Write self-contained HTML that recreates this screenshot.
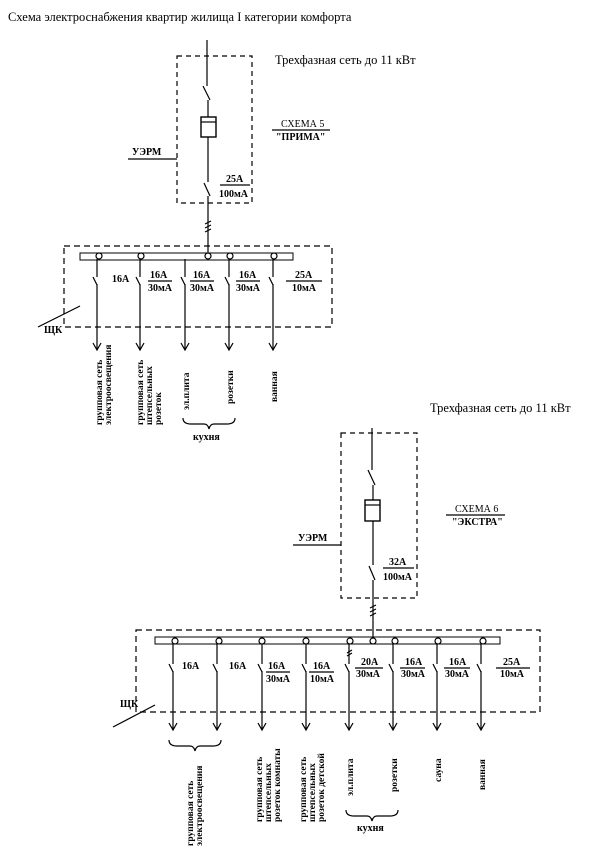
<!DOCTYPE html>
<html><head><meta charset="utf-8"><style>
html,body{margin:0;padding:0;background:#fff}
svg{display:block}
text{font-family:"Liberation Serif","DejaVu Serif",serif;fill:#000}
.s{font-size:10px;font-weight:bold}
.v{font-size:9.5px;font-weight:bold}
</style></head><body>
<svg width="604" height="861" viewBox="0 0 604 861" xmlns="http://www.w3.org/2000/svg" stroke="#000" fill="none" stroke-width="1.2">
<text x="8" y="21" style="font-size:12.5px" stroke="none">Схема электроснабжения квартир жилища I категории комфорта</text>
<text x="275" y="64" style="font-size:12.5px" stroke="none">Трехфазная сеть до 11 кВт</text>
<!-- Diagram 1 top -->
<rect x="177" y="56" width="75" height="147" stroke-dasharray="5,4"/>
<line x1="207" y1="40" x2="207" y2="86"/>
<line x1="203" y1="86" x2="210" y2="100"/>
<line x1="208" y1="100" x2="208" y2="117"/>
<rect x="201" y="117" width="15" height="20" stroke-width="1.4"/>
<line x1="201" y1="122" x2="216" y2="122"/>
<line x1="208" y1="137" x2="208" y2="182"/>
<line x1="204" y1="183" x2="210" y2="196"/>
<line x1="208" y1="196" x2="208" y2="253"/>
<path d="M205 224l6-3M205 228l6-3M205 232l6-3"/>
<line x1="128" y1="159" x2="177" y2="159"/>
<text x="132" y="155" class="s" stroke="none">УЭРМ</text>
<line x1="220" y1="185" x2="250" y2="185"/>
<text x="226" y="182" class="s" stroke="none">25А</text>
<text x="219" y="197" class="s" stroke="none">100мА</text>
<line x1="272" y1="130" x2="330" y2="130"/>
<text x="281" y="127" class="s" stroke="none" style="font-weight:normal">СХЕМА 5</text>
<text x="276" y="140" class="s" stroke="none">"ПРИМА"</text>
<!-- Diagram 1 ЩК -->
<rect x="64" y="246" width="268" height="81" stroke-dasharray="6,4"/>
<rect x="80" y="253" width="213" height="7" stroke-width="1"/>
<g fill="#fff"><circle cx="99" cy="256" r="3"/><circle cx="141" cy="256" r="3"/><circle cx="208" cy="256" r="3"/><circle cx="230" cy="256" r="3"/><circle cx="274" cy="256" r="3"/></g>
<g>
<path d="M97 259v18M93 277l4 8M97 284v65M93 343l4 7 4-7"/>
<path d="M140 259v18M136 277l4 8M140 284v65M136 343l4 7 4-7"/>
<path d="M185 259v18M181 277l4 8M185 284v65M181 343l4 7 4-7"/>
<path d="M229 259v18M225 277l4 8M229 284v65M225 343l4 7 4-7"/>
<path d="M273 259v18M269 277l4 8M273 284v65M269 343l4 7 4-7"/>
</g>
<path d="M38 327l42-21"/>
<text x="44" y="333" class="s" stroke="none">ЩК</text>
<text x="112" y="282" class="s" stroke="none">16А</text>
<line x1="148" y1="281" x2="172" y2="281"/><text x="150" y="278" class="s" stroke="none">16А</text><text x="148" y="291" class="s" stroke="none">30мА</text>
<line x1="190" y1="281" x2="214" y2="281"/><text x="193" y="278" class="s" stroke="none">16А</text><text x="190" y="291" class="s" stroke="none">30мА</text>
<line x1="236" y1="281" x2="260" y2="281"/><text x="239" y="278" class="s" stroke="none">16А</text><text x="236" y="291" class="s" stroke="none">30мА</text>
<line x1="286" y1="281" x2="322" y2="281"/><text x="295" y="278" class="s" stroke="none">25А</text><text x="292" y="291" class="s" stroke="none">10мА</text>
<g stroke="none" class="v">
<text transform="translate(102,425) rotate(-90)">групповая сеть</text>
<text transform="translate(111,425) rotate(-90)">электроосвещения</text>
<text transform="translate(143,425) rotate(-90)">групповая сеть</text>
<text transform="translate(152,425) rotate(-90)">штепсельных</text>
<text transform="translate(161,425) rotate(-90)">розеток</text>
<text transform="translate(189,410) rotate(-90)">эл.плита</text>
<text transform="translate(233,404) rotate(-90)">розетки</text>
<text transform="translate(277,402) rotate(-90)">ванная</text>
</g>
<path d="M183 418q0 6 8 6h13q4 0 5 5 1-5 5-5h13q8 0 8-6"/>
<text x="193" y="440" class="s" stroke="none">кухня</text>
<!-- Diagram 2 -->
<text x="430" y="412" style="font-size:12.5px" stroke="none">Трехфазная сеть до 11 кВт</text>
<rect x="341" y="433" width="76" height="165" stroke-dasharray="5,4"/>
<line x1="372" y1="428" x2="372" y2="470"/>
<line x1="368" y1="470" x2="375" y2="485"/>
<line x1="373" y1="485" x2="373" y2="500"/>
<rect x="365" y="500" width="15" height="21" stroke-width="1.4"/>
<line x1="365" y1="505" x2="380" y2="505"/>
<line x1="373" y1="521" x2="373" y2="565"/>
<line x1="369" y1="566" x2="375" y2="580"/>
<line x1="373" y1="580" x2="373" y2="638"/>
<path d="M370 608l6-3M370 612l6-3M370 616l6-3"/>
<line x1="293" y1="545" x2="341" y2="545"/>
<text x="298" y="541" class="s" stroke="none">УЭРМ</text>
<line x1="383" y1="568" x2="414" y2="568"/>
<text x="389" y="565" class="s" stroke="none">32А</text>
<text x="383" y="580" class="s" stroke="none">100мА</text>
<line x1="446" y1="515" x2="505" y2="515"/>
<text x="455" y="512" class="s" stroke="none" style="font-weight:normal">СХЕМА 6</text>
<text x="452" y="525" class="s" stroke="none">"ЭКСТРА"</text>
<rect x="136" y="630" width="404" height="82" stroke-dasharray="6,4"/>
<rect x="155" y="637" width="345" height="7" stroke-width="1"/>
<g fill="#fff"><circle cx="175" cy="641" r="3"/><circle cx="219" cy="641" r="3"/><circle cx="262" cy="641" r="3"/><circle cx="306" cy="641" r="3"/><circle cx="350" cy="641" r="3"/><circle cx="373" cy="641" r="3"/><circle cx="395" cy="641" r="3"/><circle cx="438" cy="641" r="3"/><circle cx="483" cy="641" r="3"/></g>
<g>
<path d="M173 644v20M169 664l4 8M173 671v58M169 723l4 7 4-7"/>
<path d="M217 644v20M213 664l4 8M217 671v58M213 723l4 7 4-7"/>
<path d="M262 644v20M258 664l4 8M262 671v58M258 723l4 7 4-7"/>
<path d="M306 644v20M302 664l4 8M306 671v58M302 723l4 7 4-7"/>
<path d="M349 644v20M345 664l4 8M349 671v58M345 723l4 7 4-7"/>
<path d="M393 644v20M389 664l4 8M393 671v58M389 723l4 7 4-7"/>
<path d="M437 644v20M433 664l4 8M437 671v58M433 723l4 7 4-7"/>
<path d="M481 644v20M477 664l4 8M481 671v58M477 723l4 7 4-7"/>
</g>
<path d="M347 653l5-3M347 656l5-3"/>
<path d="M113 727l42-22"/>
<text x="120" y="707" class="s" stroke="none">ЩК</text>
<text x="182" y="669" class="s" stroke="none">16А</text>
<text x="229" y="669" class="s" stroke="none">16А</text>
<line x1="266" y1="672" x2="290" y2="672"/><text x="268" y="669" class="s" stroke="none">16А</text><text x="266" y="682" class="s" stroke="none">30мА</text>
<line x1="309" y1="672" x2="334" y2="672"/><text x="313" y="669" class="s" stroke="none">16А</text><text x="310" y="682" class="s" stroke="none">10мА</text>
<line x1="355" y1="668" x2="383" y2="668"/><text x="361" y="665" class="s" stroke="none">20А</text><text x="356" y="677" class="s" stroke="none">30мА</text>
<line x1="400" y1="668" x2="425" y2="668"/><text x="405" y="665" class="s" stroke="none">16А</text><text x="401" y="677" class="s" stroke="none">30мА</text>
<line x1="444" y1="668" x2="470" y2="668"/><text x="449" y="665" class="s" stroke="none">16А</text><text x="445" y="677" class="s" stroke="none">30мА</text>
<line x1="496" y1="668" x2="530" y2="668"/><text x="503" y="665" class="s" stroke="none">25А</text><text x="500" y="677" class="s" stroke="none">10мА</text>
<path d="M169 740q0 6 8 6h13q4 0 5 5 1-5 5-5h13q8 0 8-6"/>
<path d="M346 810q0 6 8 6h13q4 0 5 5 1-5 5-5h13q8 0 8-6"/>
<text x="357" y="831" class="s" stroke="none">кухня</text>
<g stroke="none" class="v">
<text transform="translate(193,846) rotate(-90)">групповая сеть</text>
<text transform="translate(202,846) rotate(-90)">электроосвещения</text>
<text transform="translate(262,822) rotate(-90)">групповая сеть</text>
<text transform="translate(271,822) rotate(-90)">штепсельных</text>
<text transform="translate(280,822) rotate(-90)">розеток комнаты</text>
<text transform="translate(306,822) rotate(-90)">групповая сеть</text>
<text transform="translate(315,822) rotate(-90)">штепсельных</text>
<text transform="translate(324,822) rotate(-90)">розеток детской</text>
<text transform="translate(353,796) rotate(-90)">эл.плита</text>
<text transform="translate(397,792) rotate(-90)">розетки</text>
<text transform="translate(441,782) rotate(-90)">сауна</text>
<text transform="translate(485,790) rotate(-90)">ванная</text>
</g>
</svg>
</body></html>
